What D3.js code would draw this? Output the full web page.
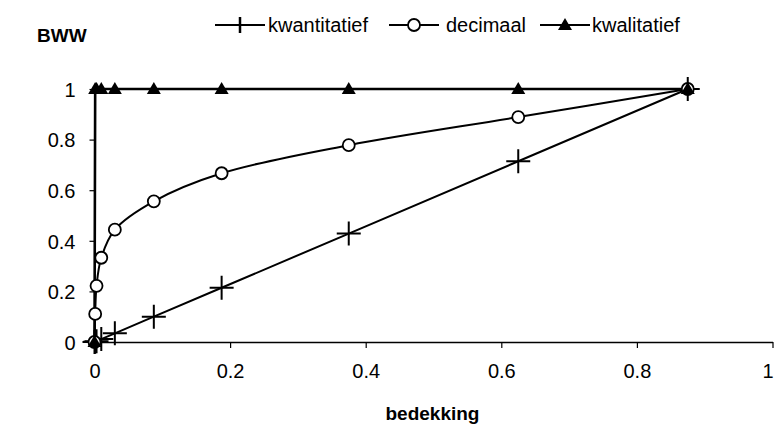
<!DOCTYPE html>
<html>
<head>
<meta charset="utf-8">
<script src="https://cdn.jsdelivr.net/npm/d3@7"></script>
<style>
  html, body { margin: 0; padding: 0; background: #fff; }
  svg { display: block; font-family: "Liberation Sans", Arial, sans-serif; }
</style>
</head>
<body>
<svg id="chart" width="775" height="424"></svg>
<script>
// Cover class midpoints (fraction of plot covered)
const bedekking = [0, 0.001, 0.003, 0.01, 0.03, 0.0875, 0.1875, 0.375, 0.625, 0.875];

// Weight given to each cover class by the three scales
const kwantitatief = [0, 0.0011, 0.0034, 0.0114, 0.0343, 0.1, 0.2143, 0.4286, 0.7143, 1];
const decimaal     = [0, 0.111, 0.222, 0.333, 0.444, 0.556, 0.667, 0.778, 0.889, 1];
const kwalitatief  = [0, 1, 1, 1, 1, 1, 1, 1, 1, 1];

const seriesNames = ["kwantitatief", "decimaal", "kwalitatief"];
const xTicks = [0, 0.2, 0.4, 0.6, 0.8, 1];
const yTicks = [0, 0.2, 0.4, 0.6, 0.8, 1];

const svg = d3.select("#chart");
const x = d3.scaleLinear().domain([0, 1]).range([94.5, 772.5]);
const y = d3.scaleLinear().domain([0, 1]).range([342, 89]);
const fmt = d => d === 0 || d === 1 ? String(d) : d3.format(".1f")(d);

// Axes
const xAxis = svg.append("g")
  .attr("transform", `translate(0,${y(0)})`)
  .call(d3.axisBottom(x).tickValues(xTicks).tickFormat(fmt).tickSizeOuter(0).tickSizeInner(6).tickPadding(16));
const yAxis = svg.append("g")
  .attr("transform", `translate(${x(0)},0)`)
  .call(d3.axisLeft(y).tickValues(yTicks).tickFormat(fmt).tickSizeOuter(0).tickSizeInner(5).tickPadding(14));
[xAxis, yAxis].forEach(g => {
  g.select(".domain").attr("stroke", "#000").attr("stroke-width", 1.3);
  g.selectAll(".tick line").attr("stroke", "#000").attr("stroke-width", 1.2);
  g.selectAll(".tick text").attr("fill", "#000").style("font-size", "20px")
    .style("font-family", "'Liberation Sans', Arial, sans-serif");
});
yAxis.selectAll(".tick text").attr("dy", "0.36em");
// keep the last x label inside the page edge
xAxis.selectAll(".tick text").filter(d => d === 1).attr("dx", "-5");

// Axis titles
svg.append("text").attr("x", 37).attr("y", 42)
  .style("font-size", "19px").style("font-weight", "bold").text("BWW");
svg.append("text").attr("x", x(0.5) - 1).attr("y", 420).attr("text-anchor", "middle")
  .style("font-size", "19px").style("font-weight", "bold").text("bedekking");

// Marker drawing helpers
function drawMarker(g, type, cx, cy) {
  if (type === "cross") {
    g.append("path").attr("d", `M${cx - 12},${cy}H${cx + 12}M${cx},${cy - 12}V${cy + 12}`)
      .attr("stroke", "#000").attr("stroke-width", 2).attr("fill", "none");
  } else if (type === "circle") {
    g.append("circle").attr("cx", cx).attr("cy", cy).attr("r", 6)
      .attr("fill", "#fff").attr("stroke", "#000").attr("stroke-width", 1.8);
  } else {
    g.append("path").attr("d", `M${cx},${cy - 7}L${cx + 7},${cy + 5}L${cx - 7},${cy + 5}Z`)
      .attr("fill", "#000");
  }
}

const series = [
  { name: seriesNames[0], values: kwantitatief, marker: "cross",    curve: d3.curveLinear, width: 2 },
  { name: seriesNames[1], values: decimaal,     marker: "circle",   curve: d3.curveCatmullRom.alpha(0.5), width: 2 },
  { name: seriesNames[2], values: kwalitatief,  marker: "triangle", curve: d3.curveLinear, width: 2.6 }
];

const line = d3.line();
series.forEach(s => {
  const pts = bedekking.map((b, i) => [x(b), y(s.values[i])]);
  svg.append("path").attr("d", line.curve(s.curve)(pts))
    .attr("fill", "none").attr("stroke", "#000").attr("stroke-width", s.width);
});
series.forEach(s => {
  const g = svg.append("g");
  bedekking.forEach((b, i) => drawMarker(g, s.marker, x(b), y(s.values[i])));
});

// Legend
const legendItems = [
  { x0: 215, tx: 268 },
  { x0: 389, tx: 446 },
  { x0: 540, tx: 592 }
];
series.forEach((s, i) => {
  const li = legendItems[i];
  const g = svg.append("g");
  const ly = 25;
  g.append("line").attr("x1", li.x0).attr("x2", li.x0 + 50).attr("y1", ly).attr("y2", ly)
    .attr("stroke", "#000").attr("stroke-width", 2);
  const mg = g.append("g");
  if (s.marker === "cross") {
    mg.append("path").attr("d", `M${li.x0 + 25},${ly - 8}V${ly + 8}`).attr("stroke", "#000").attr("stroke-width", 2.5);
  } else if (s.marker === "circle") {
    mg.append("circle").attr("cx", li.x0 + 25).attr("cy", ly).attr("r", 6)
      .attr("fill", "#fff").attr("stroke", "#000").attr("stroke-width", 1.8);
  } else {
    drawMarker(mg, "triangle", li.x0 + 25, ly);
  }
  g.append("text").attr("x", li.tx).attr("y", ly + 7).style("font-size", "20px").text(s.name);
});
</script>
</body>
</html>
